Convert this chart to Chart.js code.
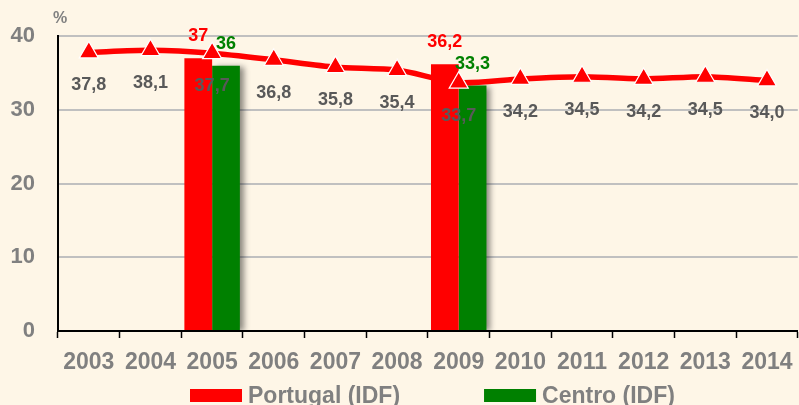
<!DOCTYPE html>
<html>
<head>
<meta charset="utf-8">
<script src="https://cdn.jsdelivr.net/npm/chart.js@4.4.1/dist/chart.umd.min.js"></script>
<style>
  html, body { margin: 0; padding: 0; background: #fef6e7; overflow: hidden; }
  #wrap { width: 799px; height: 405px; overflow: hidden; }
</style>
</head>
<body>
<div id="wrap"><canvas id="idfChart" width="810" height="405"></canvas></div>
<script>
const years = ['2003', '2004', '2005', '2006', '2007', '2008', '2009', '2010', '2011', '2012', '2013', '2014'];
const portugalIdf = [null, null, 37, null, null, null, 36.2, null, null, null, null, null];
const centroIdf = [null, null, 36, null, null, null, 33.3, null, null, null, null, null];
const trendValues = [37.8, 38.1, 37.7, 36.8, 35.8, 35.4, 33.7, 34.2, 34.5, 34.2, 34.5, 34.0];
const yTicks = [0, 10, 20, 30, 40];

const FONT = '"Liberation Sans", Arial, sans-serif';
const GREY = '#808080';
const DARK_GREY = '#595959';

// soft shadow on the right side of the green bars
const barShadow = {
  id: 'barShadow',
  beforeDatasetDraw(chart, args) {
    if (args.index !== 2) return;
    const ctx = chart.ctx;
    ctx.save();
    ctx.shadowColor = 'rgba(0,0,0,0.45)';
    ctx.shadowBlur = 6;
    ctx.shadowOffsetX = 4;
    ctx.shadowOffsetY = 1;
  },
  afterDatasetDraw(chart, args) {
    if (args.index !== 2) return;
    chart.ctx.restore();
  }
};

// value labels: bars above, line points below
const valueLabels = {
  id: 'valueLabels',
  afterDatasetsDraw(chart) {
    const ctx = chart.ctx;
    ctx.save();
    ctx.textAlign = 'center';
    ctx.textBaseline = 'middle';
    ctx.font = 'bold 18px ' + FONT;
    chart.data.datasets.forEach((ds, i) => {
      const meta = chart.getDatasetMeta(i);
      meta.data.forEach((el, j) => {
        const v = ds.data[j];
        if (v === null) return;
        if (ds.type === 'line') {
          ctx.fillStyle = DARK_GREY;
          ctx.fillText(v.toFixed(1).replace('.', ','), el.x, el.y + 33);
        } else {
          ctx.fillStyle = ds.backgroundColor;
          ctx.fillText(String(v).replace('.', ','), el.x, el.y - 22);
        }
      });
    });
    ctx.restore();
  }
};

// "%" unit over the value axis and the legend under the years
const extras = {
  id: 'extras',
  afterDraw(chart) {
    const ctx = chart.ctx;
    ctx.save();
    ctx.fillStyle = GREY;
    ctx.font = 'bold 16px ' + FONT;
    ctx.textAlign = 'center';
    ctx.textBaseline = 'middle';
    ctx.fillText('%', 60, 19);

    ctx.font = 'bold 23px ' + FONT;
    ctx.textAlign = 'left';
    ctx.textBaseline = 'alphabetic';
    let x = 190;
    chart.data.datasets.filter(ds => ds.type === 'bar').forEach(ds => {
      ctx.fillStyle = ds.backgroundColor;
      ctx.fillRect(x, 389, 52, 13);
      ctx.fillStyle = GREY;
      ctx.fillText(ds.label, x + 58, 403);
      x += 58 + ctx.measureText(ds.label).width + 84;
    });
    ctx.restore();
  }
};

const ctx = document.getElementById('idfChart').getContext('2d');
new Chart(ctx, {
  data: {
    labels: years,
    datasets: [
      {
        type: 'line',
        label: 'Portugal',
        data: trendValues,
        order: 0,
        borderColor: '#ff0000',
        borderWidth: 5.5,
        tension: 0.25,
        pointStyle: 'triangle',
        pointRadius: 11,
        pointHoverRadius: 11,
        pointBackgroundColor: '#ff0000',
        pointBorderColor: '#ffffff',
        pointBorderWidth: 1.2
      },
      {
        type: 'bar',
        label: 'Portugal (IDF)',
        data: portugalIdf,
        order: 1,
        backgroundColor: '#ff0000',
        categoryPercentage: 0.9,
        barPercentage: 1
      },
      {
        type: 'bar',
        label: 'Centro (IDF)',
        data: centroIdf,
        order: 1,
        backgroundColor: '#008000',
        categoryPercentage: 0.9,
        barPercentage: 1
      }
    ]
  },
  options: {
    responsive: false,
    animation: false,
    layout: { padding: { top: 33, right: 5, bottom: 34, left: 0 } },
    plugins: {
      legend: { display: false },
      tooltip: { enabled: false }
    },
    scales: {
      x: {
        offset: true,
        grid: {
          display: true,
          offset: true,
          drawOnChartArea: false,
          drawTicks: true,
          tickLength: 7,
          tickWidth: 1.5,
          tickColor: '#000000'
        },
        border: { color: '#000000', width: 2 },
        ticks: {
          color: GREY,
          font: { family: FONT, size: 23, weight: 'bold' },
          padding: 11,
          maxRotation: 0,
          autoSkip: false
        },
        afterFit(scale) { scale.height = 40; }
      },
      y: {
        min: 0,
        max: 40,
        afterBuildTicks(scale) { scale.ticks = yTicks.map(v => ({ value: v })); },
        grid: {
          drawTicks: false,
          lineWidth: 2,
          color: (c) => c.tick && c.tick.value === 0 ? 'rgba(0,0,0,0)' : '#c0c0c0'
        },
        border: { color: '#000000', width: 2 },
        ticks: {
          color: GREY,
          font: { family: FONT, size: 22, weight: 'bold' },
          padding: 23
        },
        afterFit(scale) { scale.width = 58; }
      }
    }
  },
  plugins: [barShadow, valueLabels, extras]
});
</script>
</body>
</html>
